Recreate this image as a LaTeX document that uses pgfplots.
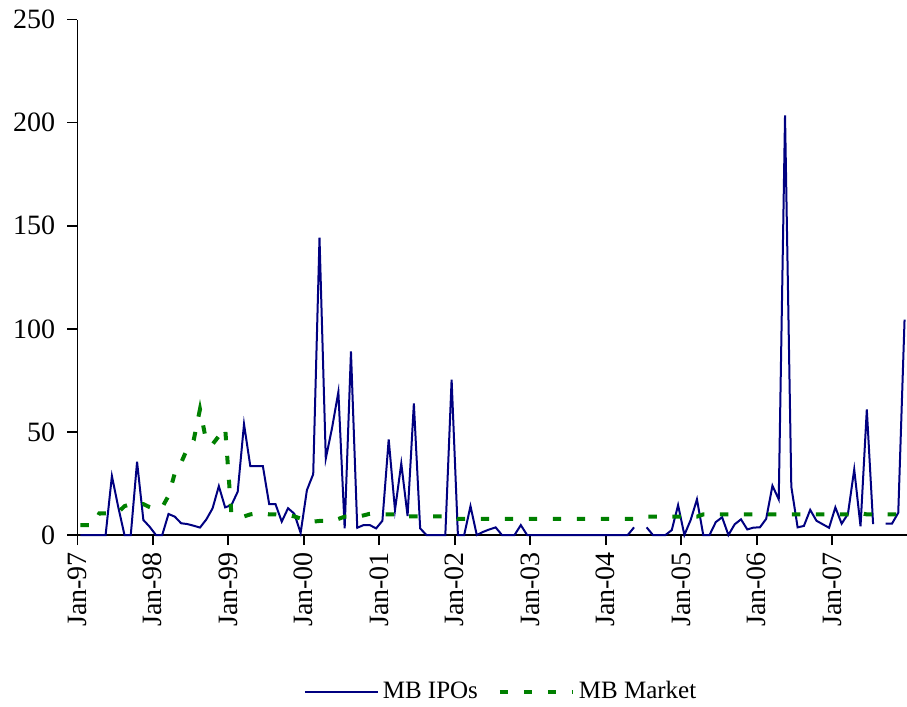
\documentclass[border=0pt]{standalone}
\usepackage{fontspec}
\setmainfont{Liberation Serif}
\usepackage{pgfplots}
\usepackage{pgfplotstable}
\pgfplotsset{compat=1.18}
\definecolor{ipoblue}{RGB}{0,0,128}
\definecolor{mktgreen}{RGB}{0,128,0}

\pgfplotstableread{
x ipo mkt
0.5 0 4.8
1.5 0 4.8
2.5 0 4.8
3.5 0 10.5
4.5 0 10.5
5.5 28.6 10.5
6.5 13.7 11
7.5 0 14
8.5 0 15
9.5 35.5 14.5
10.5 7.3 15
11.5 4 13.5
12.5 0 12.5
13.5 0 13.5
14.5 10.2 19
15.5 8.9 30
16.5 5.7 35
17.5 5.3 42
18.5 4.5 46
19.5 3.6 61
20.5 7.5 45.5
21.5 12.9 44
22.5 23.7 48
23.5 13.4 52
24.5 14.5 10
25.5 21 9
26.5 53.8 9
27.5 33.4 10
28.5 33.4 10.5
29.5 33.4 10.5
30.5 15 10
31.5 15 10
32.5 6.5 9.7
33.5 13 9.7
34.5 10.3 9
35.5 1 8
36.5 21.8 6.5
37.5 29.5 6.5
38.5 144.2 6.8
39.5 37.1 6.8
40.5 52 6.8
41.5 69.4 7.8
42.5 3.2 8.9
43.5 89 8.9
44.5 3.5 8.9
45.5 4.8 9.5
46.5 4.8 10.3
47.5 3.2 10.3
48.5 6.9 10
49.5 46.4 10
50.5 12.1 10
51.5 34.7 10
52.5 9.2 9
53.5 63.8 9
54.5 3.2 9
55.5 0 9
56.5 0 9
57.5 0 9
58.5 0 9
59.5 75.4 9
60.5 0 7.8
61.5 0 7.8
62.5 14 7.8
63.5 0 7.8
64.5 1.5 7.8
65.5 2.7 7.8
66.5 3.7 7.8
67.5 0 7.8
68.5 0 7.8
69.5 0 7.8
70.5 4.8 7.8
71.5 0 7.8
72.5 0 7.8
73.5 0 7.8
74.5 0 7.8
75.5 0 7.8
76.5 0 7.8
77.5 0 7.8
78.5 0 7.8
79.5 0 7.8
80.5 0 7.8
81.5 0 7.8
82.5 0 7.8
83.5 0 7.8
84.5 0 7.8
85.5 0 7.8
86.5 0 7.8
87.5 0 7.8
88.5 3.7 7.8
89.5 nan 8.9
90.5 3.7 8.9
91.5 0 8.9
92.5 0 8.9
93.5 0 8.9
94.5 2.4 8.9
95.5 14.5 8.9
96.5 0 8.9
97.5 7.3 8.9
98.5 17.3 8.9
99.5 0 10
100.5 0 10
101.5 6.3 10
102.5 8.6 10
103.5 0 10
104.5 5.2 10
105.5 7.6 10
106.5 2.7 10
107.5 3.6 10
108.5 3.7 10
109.5 7.8 10
110.5 23.9 10
111.5 17.3 10
112.5 203.5 10
113.5 23.4 10
114.5 3.7 10
115.5 4.4 10
116.5 12.2 10
117.5 6.9 10
118.5 5.2 10
119.5 3.5 10
120.5 13.4 10
121.5 5.5 10
122.5 10.2 10
123.5 31.8 10.6
124.5 4.2 10.6
125.5 60.9 10
126.5 5.3 10
127.5 nan 10
128.5 5.5 10
129.5 5.5 10
130.5 10.8 10
131.5 104.5 10
}\datatable

\begin{document}
\begin{tikzpicture}
\begin{axis}[
  scale only axis,
  width=415.2bp, height=257.7bp,
  xmin=0, xmax=132, ymin=0, ymax=250,
  axis x line=bottom, axis y line=left,
  axis line style={-, black, line width=0.8bp},
  tick align=outside,
  major tick length=5bp,
  every tick/.style={black, line width=0.8bp},
  xtick={0,12,24,36,48,60,72,84,96,108,120},
  xticklabels={Jan-97,Jan-98,Jan-99,Jan-00,Jan-01,Jan-02,Jan-03,Jan-04,Jan-05,Jan-06,Jan-07},
  xticklabel style={rotate=90, anchor=east, font=\fontsize{14bp}{16bp}\selectfont},
  ytick={0,50,100,150,200,250},
  yticklabel style={font=\fontsize{14bp}{16bp}\selectfont, xshift=-2.6bp},
  /pgf/number format/assume math mode=true,
  unbounded coords=jump,
  clip=false,
  legend columns=2,
  legend style={at={(0.5115,-0.304)}, anchor=center, draw=none, fill=none,
    font=\fontsize{12.5bp}{14bp}\selectfont,
    /tikz/every even column/.append style={column sep=8bp}},
  legend image code/.code={\draw[#1] (0bp,0bp) -- (36.5bp,0bp);},
]
\addplot[ipoblue, line width=1bp, line join=miter] table[x=x, y=ipo] {\datatable};
\addlegendentry{MB IPOs}
\addplot[mktgreen, line width=2bp, dash pattern=on 4.2bp off 7.8bp] table[x=x, y=mkt] {\datatable};
\addlegendentry{MB Market}
\end{axis}
\pgfresetboundingbox
\path (-38.65bp,-86bp) rectangle (414.85bp,267.5bp);
\end{tikzpicture}
\end{document}
